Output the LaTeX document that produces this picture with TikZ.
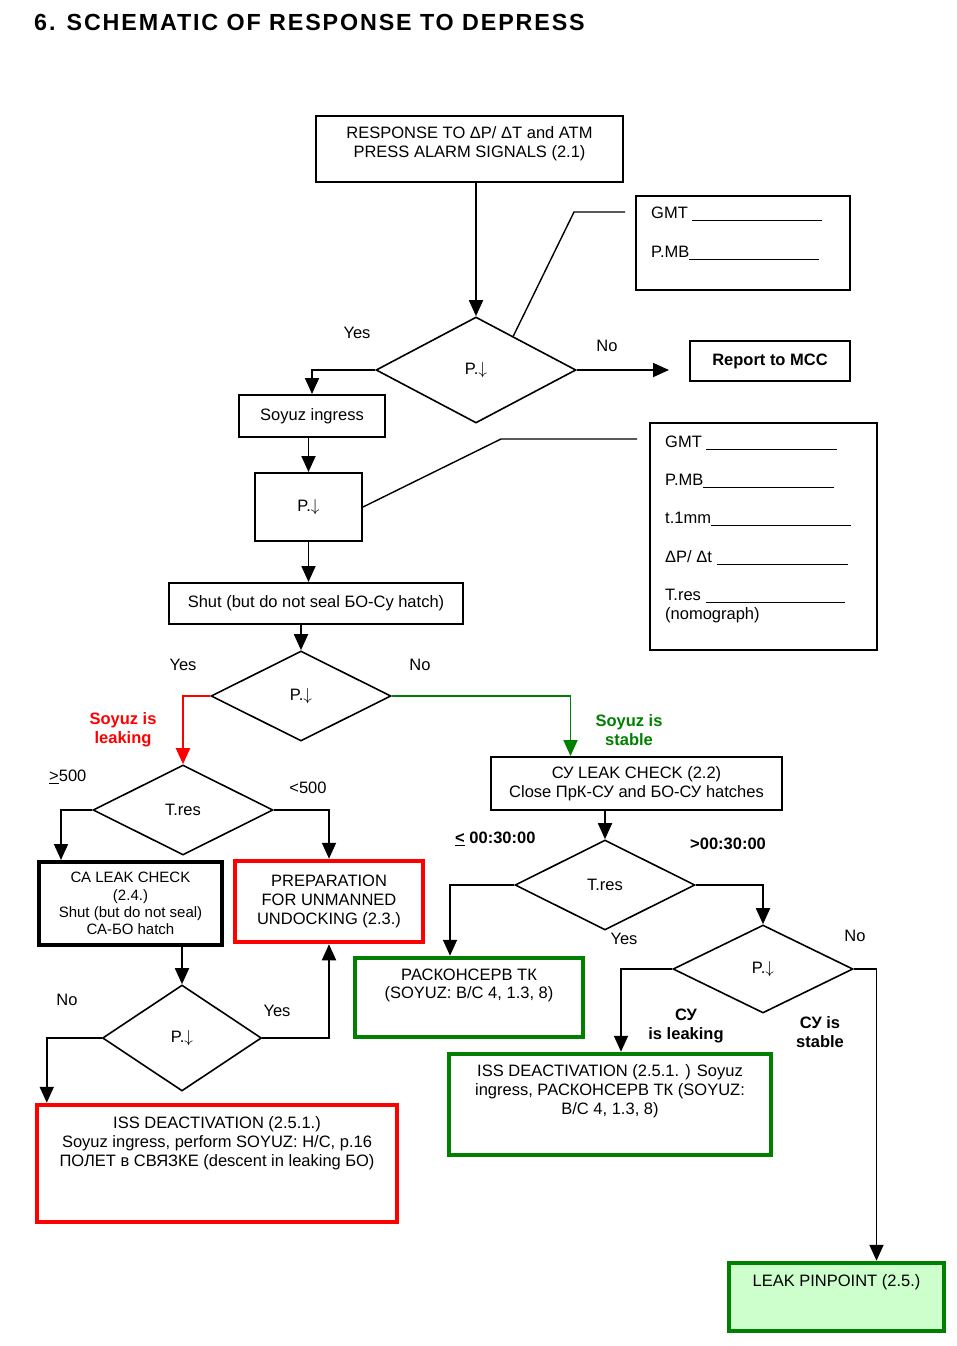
\documentclass[tikz,border=0pt]{standalone}
\usepackage{fontspec}
\setmainfont{Liberation Sans}
\newfontfamily\titlefont[LetterSpace=8]{Liberation Sans}
\usetikzlibrary{arrows.meta}
\usetikzlibrary{shapes.geometric}
\usetikzlibrary{positioning, calc}
\definecolor{alarmred}{rgb}{1,0,0}
\definecolor{safegreen}{rgb}{0,0.5,0}
\definecolor{palegreen}{rgb}{0.8,1,0.8}
\newcommand{\blank}[1]{\rule[-3pt]{#1pt}{1pt}}
\newcommand{\normalsz}{\fontsize{16.5}{18.8}\selectfont}
\newcommand{\pdrop}{P.$\downarrow$}

\tikzset{
    box/.style={draw, line width=2pt, inner sep=0pt, align=center},
    thickbox/.style={box, line width=4.5pt},
    decision/.style={draw, diamond, line width=1.6pt, inner sep=0pt},
    txt/.style={inner sep=0pt, align=center},
    flow/.style={line width=1.8pt, -{Triangle[length=16pt,width=14pt]}},
    lead/.style={line width=1.4pt},
}

\begin{document}
\begin{tikzpicture}[x=1pt, y=-1pt, every node/.style={font=\normalsz}]
    \useasboundingbox (0,0) rectangle (956,1346);

    \node[anchor=base west, inner sep=0pt, font=\titlefont\bfseries\fontsize{23.3}{28}\selectfont] (title) at (34,31)
        {6. SCHEMATIC OF RESPONSE TO DEPRESS};

    % first check
    \node[box, minimum width=307pt, minimum height=66pt] (alarm) at (469.5,149) {};
    \node[txt] at (469.5,144) {RESPONSE TO ΔP/ ΔT and ATM\\PRESS ALARM SIGNALS (2.1)};
    \node[decision, minimum width=200pt, minimum height=106pt] (check1) at (476,370) {\pdrop};
    \node[box, minimum width=214pt, minimum height=94pt] (gmt1) at (743,243) {};
    \foreach \y/\t in {218/{GMT \blank{130}}, 257/{P.MB\blank{130}}}
        \node[txt, anchor=base west] at (651,\y) {\t};
    \node[box, minimum width=160pt, minimum height=40pt, font=\normalsz\bfseries] (mcc) at (770,361) {Report to MCC};

    \node[box, minimum width=146pt, minimum height=42pt] (ingress) at (312,416) {Soyuz ingress};
    \node[box, minimum width=107pt, minimum height=68pt] (pbox) at (308.5,507) {\pdrop};
    \node[box, minimum width=227pt, minimum height=227pt] (gmt2) at (763.5,536.5) {};
    \foreach \y/\t in {
        447/{GMT \blank{131}},
        485/{P.MB\blank{131}},
        523/{t.1mm\blank{140}},
        562/{ΔP/ Δt \blank{131}},
        600/{T.res \blank{139}},
        619/{(nomograph)}}
        \node[txt, anchor=base west] at (665,\y) {\t};
    \node[box, minimum width=294pt, minimum height=41pt] (shut) at (316,603.5) {Shut (but do not seal БО-Су hatch)};
    \node[decision, minimum width=180pt, minimum height=90pt] (check2) at (301,696) {\pdrop};

    % Soyuz is leaking
    \node[decision, minimum width=180pt, minimum height=90pt] (tres1) at (183,810) {T.res};
    \node[thickbox, line width=4pt, minimum width=183pt, minimum height=83pt, font=\fontsize{15}{17.3}\selectfont] (calk) at (130.5,903.5)
        {СА LEAK CHECK\\(2.4.)\\Shut (but do not seal)\\СА-БО hatch};
    \node[thickbox, draw=alarmred, minimum width=188pt, minimum height=81pt] (prep) at (329,901.5)
        {PREPARATION\\FOR UNMANNED\\UNDOCKING (2.3.)};
    \node[decision, minimum width=159pt, minimum height=106pt] (check3) at (182,1038) {\pdrop};
    \node[thickbox, draw=alarmred, minimum width=360pt, minimum height=117pt] (issred) at (217,1163.5) {};
    \node[txt] at (217,1143) {ISS DEACTIVATION (2.5.1.)\\Soyuz ingress, perform SOYUZ: H/C, p.16\\ПОЛЕТ в СВЯЗКЕ (descent in leaking БО)};

    % Soyuz is stable
    \node[box, minimum width=291pt, minimum height=53pt] (culk) at (636.5,783.5)
        {СУ LEAK CHECK (2.2)\\Close ПрК-СУ and БО-СУ hatches};
    \node[decision, minimum width=180pt, minimum height=90pt] (tres2) at (605,885) {T.res};
    \node[thickbox, draw=safegreen, minimum width=228pt, minimum height=79pt] (rask) at (469,997.5) {};
    \node[txt] at (469,985.5) {РАСКОНСЕРВ ТК\\(SOYUZ: B/C 4, 1.3, 8)};
    \node[decision, minimum width=180pt, minimum height=88pt] (check4) at (763,969) {\pdrop};
    \node[thickbox, draw=safegreen, minimum width=322pt, minimum height=101pt] (issgreen) at (610,1104.5) {};
    \node[txt] at (610,1091) {ISS DEACTIVATION (2.5.1. ) Soyuz\\ingress, РАСКОНСЕРВ ТК (SOYUZ:\\B/C 4, 1.3, 8)};
    \node[thickbox, draw=safegreen, fill=palegreen, minimum width=215pt, minimum height=68pt] (leak) at (836.5,1297) {};
    \node[txt] at (836.5,1282) {LEAK PINPOINT (2.5.)};

    % branch labels
    \foreach \x/\y/\t in {
        357/333/Yes, 607/346/No, 183/665/Yes, 420/665/No,
        308/788/<500, 67/1000/No, 277/1011/Yes,
        624/939/Yes, 855/936/No}
        \node[txt] at (\x,\y) {\t};
    \node[txt, anchor=west] at (49,777) {\underline{>}500};
    \node[txt, text=alarmred, font=\normalsz\bfseries] at (123,730) {Soyuz is\\leaking};
    \node[txt, text=safegreen, font=\normalsz\bfseries] at (629,730) {Soyuz is\\stable};
    \node[txt, anchor=west, font=\normalsz\bfseries] at (455,839) {\underline{<} 00:30:00};
    \node[txt, anchor=west, font=\normalsz\bfseries] at (690,844) {>00:30:00};
    \node[txt, font=\normalsz\bfseries] at (686,1026) {СУ\\is leaking};
    \node[txt, font=\normalsz\bfseries] at (820,1032) {СУ is\\stable};

    % connectors
    \draw[flow] (check1.north |- alarm.south) -- (check1.north);
    \draw[flow, shorten >=20pt] (check1.east) -- (check1.east -| mcc.west);
    \draw[flow] (check1.west) -| (ingress.north);
    \draw[flow] (pbox.north |- ingress.south) -- (pbox.north);
    \draw[flow] (pbox.south) -- (pbox.south |- shut.north);
    \draw[flow] (check2.north |- shut.south) -- (check2.north);
    \draw[flow, color=alarmred, line width=2pt] (check2.west) -| (tres1.north);
    \draw[flow, color=safegreen] (check2.east) -| ([xshift=-66pt]culk.north);
    \draw[flow] (tres1.west) -| ([xshift=24pt]calk.north west);
    \draw[flow] (tres1.east) -| (prep.north);
    \draw[flow] (check3.north |- calk.south) -- (check3.north);
    \draw[flow] (check3.east) -| (prep.south);
    \draw[flow] (check3.west) -| ([xshift=12pt]issred.north west);
    \draw[flow] (tres2.north |- culk.south) -- (tres2.north);
    \draw[flow] (tres2.west) -| ([xshift=-19pt]rask.north);
    \draw[flow] (tres2.east) -| (check4.north);
    \draw[flow] (check4.west) -| ([xshift=11pt]issgreen.north);
    \draw[flow] (check4.east) -| ([xshift=40pt]leak.north);

    % leads to the record boxes
    \draw[lead] ($(check1.north)!0.37!(check1.east)$) -- ([xshift=-61pt,yshift=-17pt]gmt1.north west)
        -- ([xshift=-10pt,yshift=-17pt]gmt1.north west);
    \draw[lead] (pbox.east) -- ([xshift=-148pt,yshift=-17pt]gmt2.north west)
        -- ([xshift=-12pt,yshift=-17pt]gmt2.north west);
\end{tikzpicture}
\end{document}
